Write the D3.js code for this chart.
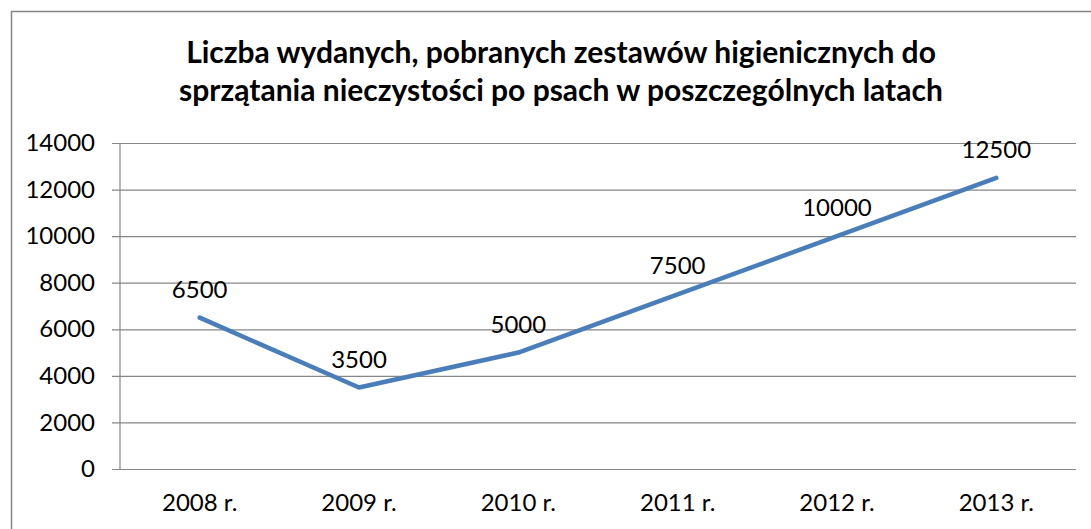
<!DOCTYPE html>
<html><head><meta charset="utf-8">
<script src="https://cdn.jsdelivr.net/npm/d3@7"></script>
<style>html,body{margin:0;padding:0;background:#fff;}svg{display:block;}</style>
</head><body>
<script>
const categories = ["2008 r.", "2009 r.", "2010 r.", "2011 r.", "2012 r.", "2013 r."];
const values = [6500, 3500, 5000, 7500, 10000, 12500];
const yTicks = [0, 2000, 4000, 6000, 8000, 10000, 12000, 14000];
const titleLines = ["Liczba wydanych, pobranych zestawów higienicznych do", "sprzątania nieczystości po psach w poszczególnych latach"];

const W = 1091, H = 529;
const font = "Lato, 'Open Sans', sans-serif";
const svg = d3.select("body").append("svg").attr("width", W).attr("height", H);
svg.append("rect").attr("width", W).attr("height", H).attr("fill", "#fff");
svg.append("rect").attr("x", 11.5).attr("y", 11.5).attr("width", 1120).attr("height", 560)
  .attr("fill", "none").attr("stroke", "#868686").attr("stroke-width", 1.5);

const m = {left: 120, right: 1076, top: 143, bottom: 469};
const x = d3.scaleBand().domain(categories).range([m.left, m.right]);
const y = d3.scaleLinear().domain([0, 14000]).range([m.bottom, m.top]);

// title
const t = svg.append("text").attr("text-anchor", "middle").attr("font-family", font)
  .attr("font-weight", "bold").attr("font-size", 30).attr("fill", "#000");
titleLines.forEach((l, i) => t.append("tspan").attr("x", 561).attr("y", 63 + i * 38).text(l));

// gridlines + y axis
const yAxis = d3.axisLeft(y).tickValues(yTicks).tickSize(-(m.right - m.left)).tickPadding(18).tickFormat(d3.format("d"));
const gy = svg.append("g").attr("transform", `translate(${m.left},0)`).call(yAxis);
gy.select(".domain").remove();
gy.selectAll(".tick line").attr("stroke", "#868686").attr("stroke-width", 1.2).attr("x1", -8);
gy.selectAll(".tick text").attr("font-family", font).attr("font-size", 24).attr("fill", "#000").attr("x", -25);
svg.append("line").attr("x1", m.left).attr("x2", m.left).attr("y1", m.top).attr("y2", m.bottom)
  .attr("stroke", "#868686").attr("stroke-width", 1.2);

// x axis
const xAxis = d3.axisBottom(x).tickSize(0).tickPadding(25);
const gx = svg.append("g").attr("transform", `translate(0,${m.bottom})`).call(xAxis);
gx.select(".domain").remove();
gx.selectAll(".tick text").attr("font-family", font).attr("font-size", 24).attr("fill", "#000");

// line
const cx = d => x(d) + x.bandwidth() / 2;
const line = d3.line().x((d, i) => cx(categories[i])).y(d => y(d));
svg.append("path").datum(values).attr("d", line).attr("fill", "none")
  .attr("stroke", "#4A7EBB").attr("stroke-width", 4.5).attr("stroke-linecap", "round").attr("stroke-linejoin", "round");

// data labels
svg.append("g").selectAll("text").data(values).join("text")
  .attr("x", (d, i) => cx(categories[i])).attr("y", d => y(d) - 20)
  .attr("text-anchor", "middle").attr("font-family", font).attr("font-size", 24).attr("fill", "#000")
  .text(d => d);
</script>
</body></html>
